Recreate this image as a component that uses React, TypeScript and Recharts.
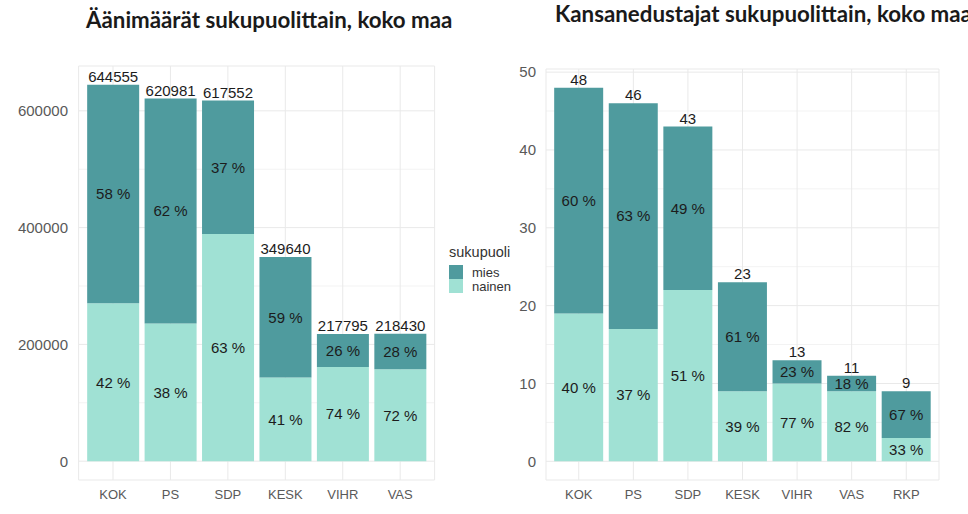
import { Bar, BarChart, CartesianGrid, LabelList, Legend, XAxis, YAxis } from "recharts";

const parties = ["KOK", "PS", "SDP", "KESK", "VIHR", "VAS"];
const votesNainen = [270500, 236000, 389000, 143300, 161200, 157300];
const votesMies = [374055, 384981, 228552, 206340, 56595, 61130];
const votesTotal = [644555, 620981, 617552, 349640, 217795, 218430];
const votesPctMies = [58, 62, 37, 59, 26, 28];
const votesPctNainen = [42, 38, 63, 41, 74, 72];
const votesTicks = [0, 200000, 400000, 600000];
const votesMinor = [100000, 300000, 500000];

const mpParties = ["KOK", "PS", "SDP", "KESK", "VIHR", "VAS", "RKP"];
const mpNainen = [19, 17, 22, 9, 10, 9, 3];
const mpMies = [29, 29, 21, 14, 3, 2, 6];
const mpTotal = [48, 46, 43, 23, 13, 11, 9];
const mpPctMies = [60, 63, 49, 61, 23, 18, 67];
const mpPctNainen = [40, 37, 51, 39, 77, 82, 33];
const mpTicks = [0, 10, 20, 30, 40, 50];
const mpMinor = [5, 15, 25, 35, 45];

const MIES = "#4f9b9e";
const NAINEN = "#a0e1d4";
const AXIS_FONT = "'Liberation Sans', Arial, sans-serif";
const TITLE_FONT = "Lato, 'Noto Sans', sans-serif";

const votesData = parties.map((party, i) => ({
	party,
	nainen: votesNainen[i],
	mies: votesMies[i],
	total: votesTotal[i],
	pctNainen: votesPctNainen[i],
	pctMies: votesPctMies[i],
}));

const mpData = mpParties.map((party, i) => ({
	party,
	nainen: mpNainen[i],
	mies: mpMies[i],
	total: mpTotal[i],
	pctNainen: mpPctNainen[i],
	pctMies: mpPctMies[i],
}));

// ggplot-style 5% expansion on the value axis
const expand = (max: number): [number, number] => [-0.05 * max, 1.05 * max];

const pct = (v: unknown) => `${v} %`;

const labelStyle = { fontFamily: AXIS_FONT, fontSize: 15, fill: "#1c1c1c" };
const yTick = { fill: "#595959", fontFamily: AXIS_FONT, fontSize: 15 };
const xTick = { fill: "#595959", fontFamily: AXIS_FONT, fontSize: 13 };

function LegendBox({ payload }: { payload?: Array<{ value: string; color: string }> }) {
	const items = payload ?? [];
	return (
		<div style={{ fontFamily: AXIS_FONT, color: "#333" }}>
			<div style={{ fontSize: 14.5, lineHeight: "19px", marginBottom: 3 }}>sukupuoli</div>
			{items.map((item) => (
				<div key={item.value} style={{ display: "flex", alignItems: "center", height: 14 }}>
					<span style={{ display: "inline-block", width: 14, height: 14, background: item.color }} />
					<span style={{ fontSize: 13, marginLeft: 9 }}>{item.value}</span>
				</div>
			))}
		</div>
	);
}

type PanelProps = {
	data: typeof votesData;
	ticks: number[];
	minor: number[];
	width: number;
	margin: { top: number; right: number; bottom: number; left: number };
	yWidth: number;
	yMargin: number;
	pad: number;
	legend?: boolean;
};

function Panel({ data, ticks, minor, width, margin, yWidth, yMargin, pad, legend }: PanelProps) {
	const max = Math.max(...data.map((d) => d.total));
	return (
		<BarChart width={width} height={514} data={data} margin={margin} barCategoryGap="5%">
			<CartesianGrid stroke="#f3f3f3" vertical={false} horizontalValues={minor} />
			<CartesianGrid stroke="#e9e9e9" />
			<XAxis
				dataKey="party"
				axisLine={false}
				tickLine={false}
				tickSize={0}
				tickMargin={9.5}
				height={34}
				padding={{ left: pad, right: pad }}
				tick={xTick}
			/>
			<YAxis
				type="number"
				domain={expand(max)}
				allowDataOverflow
				ticks={ticks}
				axisLine={false}
				tickLine={false}
				tickSize={0}
				tickMargin={yMargin}
				width={yWidth}
				tick={yTick}
			/>
			{legend && (
				<Legend
					layout="vertical"
					align="center"
					verticalAlign="middle"
					wrapperStyle={{ left: 449, top: 243, width: 80 }}
					content={(props) => <LegendBox payload={props.payload as any} />}
				/>
			)}
			<Bar dataKey="nainen" name="nainen" stackId="s" fill={NAINEN} isAnimationActive={false}>
				<LabelList dataKey="pctNainen" position="center" formatter={pct} style={labelStyle} />
			</Bar>
			<Bar dataKey="mies" name="mies" stackId="s" fill={MIES} isAnimationActive={false}>
				<LabelList dataKey="pctMies" position="center" formatter={pct} style={labelStyle} />
				<LabelList dataKey="total" position="top" offset={3} style={labelStyle} />
			</Bar>
		</BarChart>
	);
}

export default function App() {
	return (
		<div style={{ position: "absolute", left: 0, top: 0, width: 968, height: 514, background: "#fff", overflow: "hidden" }}>
			<svg width={968} height={40} style={{ position: "absolute", left: 0, top: 0 }}>
				<text x={86} y={28} fontFamily={TITLE_FONT} fontWeight={700} fontSize={22.3} fill="#1a1a1a">
					Äänimäärät sukupuolittain, koko maa
				</text>
				<text x={555} y={22} fontFamily={TITLE_FONT} fontWeight={700} fontSize={22.3} fill="#1a1a1a">
					Kansanedustajat sukupuolittain, koko maa
				</text>
			</svg>
			<div style={{ position: "absolute", left: 0, top: 0 }}>
				<Panel
					data={votesData}
					ticks={votesTicks}
					minor={votesMinor}
					width={530}
					margin={{ top: 66, right: 95.4, bottom: 0, left: 8.6 }}
					yWidth={70}
					yMargin={10.6}
					pad={5.7}
					legend
				/>
			</div>
			<div style={{ position: "absolute", left: 480, top: 0 }}>
				<Panel
					data={mpData}
					ticks={mpTicks}
					minor={mpMinor}
					width={488}
					margin={{ top: 69, right: 29, bottom: 0, left: 6 }}
					yWidth={60}
					yMargin={10}
					pad={5.45}
				/>
			</div>
		</div>
	);
}
